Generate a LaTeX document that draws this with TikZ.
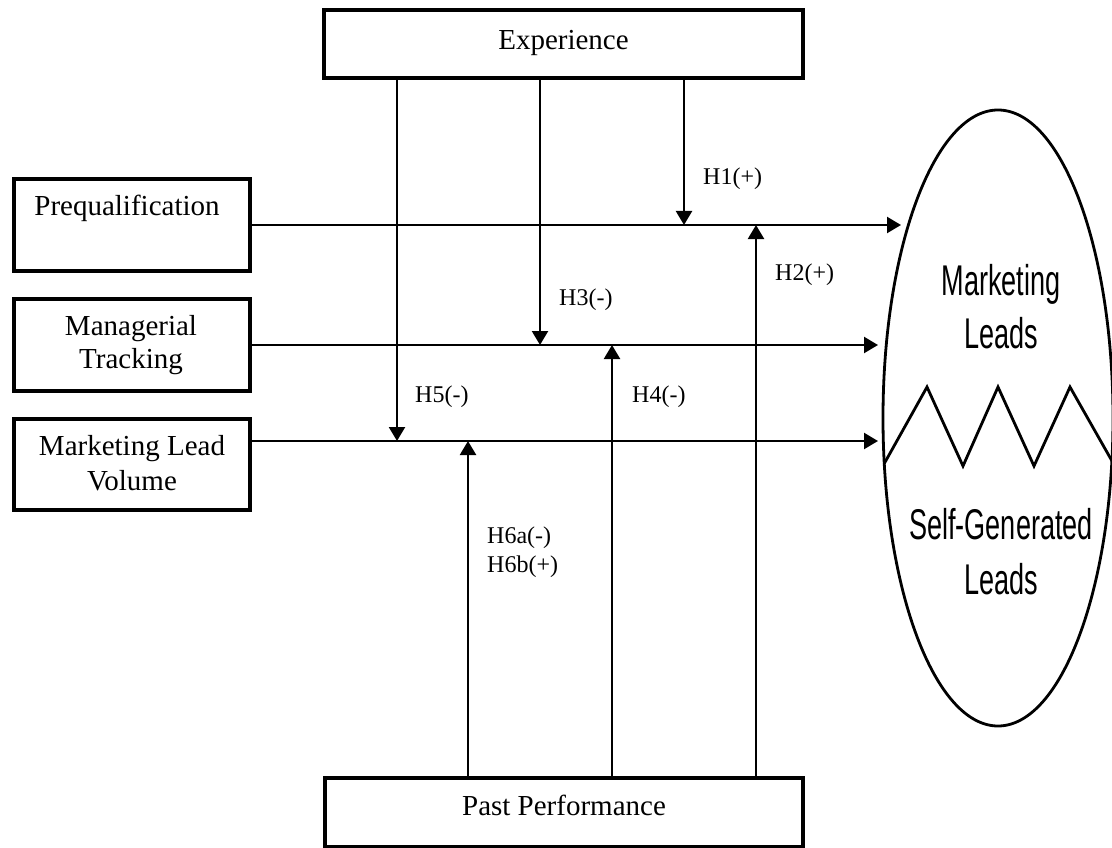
\documentclass[tikz,border=0pt]{standalone}
\usepackage{fontspec}
\setmainfont{Liberation Serif}
\newfontfamily\arialf{Liberation Sans}
\usetikzlibrary{arrows.meta,shapes.geometric}
\newcommand\cnd[1]{\scalebox{0.63}[1]{\arialf\fontsize{43}{50}\selectfont #1}}
\begin{document}
\begin{tikzpicture}[x=1pt,y=-1pt,
  box/.style={draw, line width=4pt, rectangle, inner sep=0pt},
  txt/.style={font=\fontsize{29}{33}\selectfont, inner sep=0pt, anchor=base},
  sans/.style={inner sep=0pt, anchor=base},
  lbl/.style={font=\fontsize{24}{28}\selectfont, anchor=base west, inner sep=0pt},
  conn/.style={line width=2.2pt, -{Triangle[width=16pt,length=14pt]}},
  line/.style={line width=2.2pt}]
\useasboundingbox (0,0) rectangle (1112,848);
% boxes
\node[box, minimum width=479, minimum height=68] (exp) at (563.5,44) {};
\node[txt] (expt) at (563.5,50) {Experience};
\node[box, minimum width=478, minimum height=69] (past) at (564,812.5) {};
\node[txt] (pastt) at (564,815) {Past Performance};
\node[box, minimum width=236, minimum height=92] (pq) at (132,225) {};
\node[txt] (pqt) at (127,215) {Prequalification};
\node[box, minimum width=236, minimum height=92] (mt) at (132,345) {};
\node[txt] (mt1) at (131,335) {Managerial};
\node[txt] (mt2) at (131,368) {Tracking};
\node[box, minimum width=236, minimum height=91] (mlv) at (132,464.5) {};
\node[txt] (mlv1) at (132,455) {Marketing Lead};
\node[txt] (mlv2) at (132,490) {Volume};
% outcome ellipse
\node[draw, ellipse, line width=2.8pt, inner sep=0pt, minimum width=230, minimum height=616] (leads) at (998,418) {};
\coordinate (zs) at (884,464);
\coordinate (ze) at (1112,461);
\draw[line width=2.8pt, line join=miter] (zs) -- (927,387) -- (963,466) -- (998,387) -- (1034,466) -- (1070,387) -- (ze);
\node[sans] (ml1) at (1001,295) {\cnd{Marketing}};
\node[sans] (ml2) at (1001,348) {\cnd{Leads}};
\node[sans] (sg1) at (1001,539) {\cnd{Self-Generated}};
\node[sans] (sg2) at (1001,594) {\cnd{Leads}};
% arrow targets
\coordinate (t1) at (901,225);
\coordinate (t2) at (878,345);
\coordinate (t3) at (878,441);
\draw[conn] (pq) -- (t1);
\draw[conn] (mt) -- (t2);
\draw[conn] (mlv.east |- t3) -- (t3);
% junctions
\coordinate (h1) at (684,225);
\coordinate (h2) at (756,225);
\coordinate (h3) at (540,345);
\coordinate (h4) at (612,345);
\coordinate (h5) at (397,441);
\coordinate (h6) at (468,441);
\draw[conn] (h1 |- exp.south) -- (h1);
\draw[conn] (h3 |- exp.south) -- (h3);
\draw[conn] (h5 |- exp.south) -- (h5);
\draw[conn] (h2 |- past.north) -- (h2);
\draw[conn] (h4 |- past.north) -- (h4);
\draw[conn] (h6 |- past.north) -- (h6);
% labels
\node[lbl] (l1) at (703,185) {H1(+)};
\node[lbl] (l2) at (775,280) {H2(+)};
\node[lbl] (l3) at (559,305) {H3(-)};
\node[lbl] (l4) at (632,402) {H4(-)};
\node[lbl] (l5) at (415,402) {H5(-)};
\node[lbl] (l6a) at (487,543) {H6a(-)};
\node[lbl] (l6b) at (487,572) {H6b(+)};
\end{tikzpicture}
\end{document}
